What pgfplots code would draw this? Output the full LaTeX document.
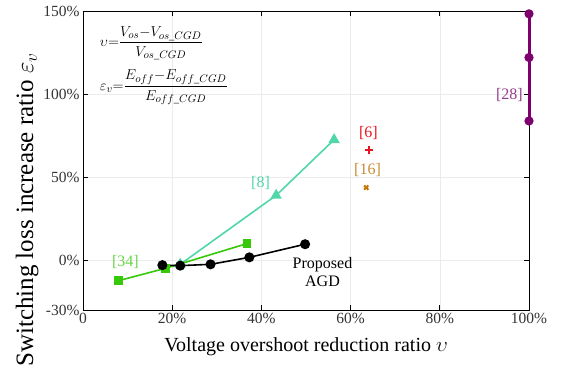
\documentclass[border=0pt]{standalone}
\usepackage{amsmath}
\usepackage{fontspec}
\setmainfont{Liberation Serif}
\usepackage{pgfplots}
\pgfplotsset{compat=1.18}
\definecolor{cteal}{RGB}{80,214,168}
\definecolor{cgreen}{RGB}{55,200,10}
\definecolor{cred}{RGB}{232,20,30}
\definecolor{corange}{RGB}{196,118,10}
\definecolor{clorange}{RGB}{200,140,50}
\definecolor{cpurple}{RGB}{125,0,110}
\definecolor{clpurple}{RGB}{150,60,140}
\begin{document}
\begin{tikzpicture}
\begin{axis}[
  scale only axis, width=446pt, height=299pt,
  xmin=0, xmax=100, ymin=-30, ymax=150,
  xtick={0,20,40,60,80,100},
  xticklabels={0,20\%,40\%,60\%,80\%,100\%},
  ytick={-30,0,50,100,150},
  yticklabels={-30\%,0\%,50\%,100\%,150\%},
  /pgf/number format/assume math mode=true,
  ticklabel style={font=\fontsize{15.5}{16}\selectfont, color=black!80},
  tick align=inside, major tick length=5pt,
  grid=major, grid style={color=black!8, line width=0.5pt},
  axis line style={line width=0.8pt},
  tick style={line width=0.8pt, color=black},
  xlabel={Voltage overshoot reduction ratio $\upsilon$},
  ylabel={Switching loss increase ratio $\varepsilon_{v}$},
  xlabel style={font=\fontsize{20}{22}\selectfont, yshift=-7pt},
  ylabel style={font=\fontsize{25}{27}\selectfont, at={(ticklabel cs:0.335)}, yshift=-2pt},
  clip=false,
]
% [28]
\addplot[cpurple, line width=3pt, mark=*, mark size=3pt] coordinates {(100,83.8) (100,122) (100,148.3)};
% [8]
\addplot[cteal, line width=1.6pt, mark=triangle*, mark size=5pt] coordinates {(21.8,-2.5) (43.3,39) (56.3,72.5)};
% [34]
\addplot[cgreen, line width=1.6pt, mark=square*, mark size=3.5pt] coordinates {(7.9,-12.4) (18.5,-4.9) (36.8,10)};
% Proposed
\addplot[black, line width=1.6pt, mark=*, mark size=4.2pt] coordinates {(17.8,-3) (21.8,-3.3) (28.6,-2.5) (37.3,1.7) (49.8,9.6)};
% [6]
\addplot[cred, only marks, mark=+, mark size=4pt, line width=2pt] coordinates {(64.2,66.5)};
% [16]
\addplot[corange, only marks, mark=x, mark size=3pt, line width=2pt] coordinates {(63.5,43.7)};
\node[clpurple, font=\fontsize{16}{18}\selectfont] at (axis cs:95.6,99.6) {[28]};
\node[cred, font=\fontsize{16}{18}\selectfont] at (axis cs:64,76.7) {[6]};
\node[clorange, font=\fontsize{16}{18}\selectfont] at (axis cs:63.8,54.4) {[16]};
\node[cteal, font=\fontsize{16}{18}\selectfont] at (axis cs:39.8,46.6) {[8]};
\node[cgreen!75!white, font=\fontsize{16}{18}\selectfont] at (axis cs:9.5,-1) {[34]};
\node[black, font=\fontsize{16}{18}\selectfont, align=center] at (axis cs:53.7,-7.1) {Proposed\\AGD};
\node[anchor=west, font=\fontsize{15}{16}\selectfont] at (axis cs:3,130.5) {$\upsilon{=}\dfrac{V_{os}{-}V_{os\_CGD}}{V_{os\_CGD}}$};
\node[anchor=west, font=\fontsize{15}{16}\selectfont] at (axis cs:3,104) {$\varepsilon_{v}{=}\dfrac{E_{off}{-}E_{off\_CGD}}{E_{off\_CGD}}$};
\end{axis}
\path (current axis.south west) ++(-83pt,-55pt) rectangle ++(562pt,365pt);
\end{tikzpicture}
\end{document}
